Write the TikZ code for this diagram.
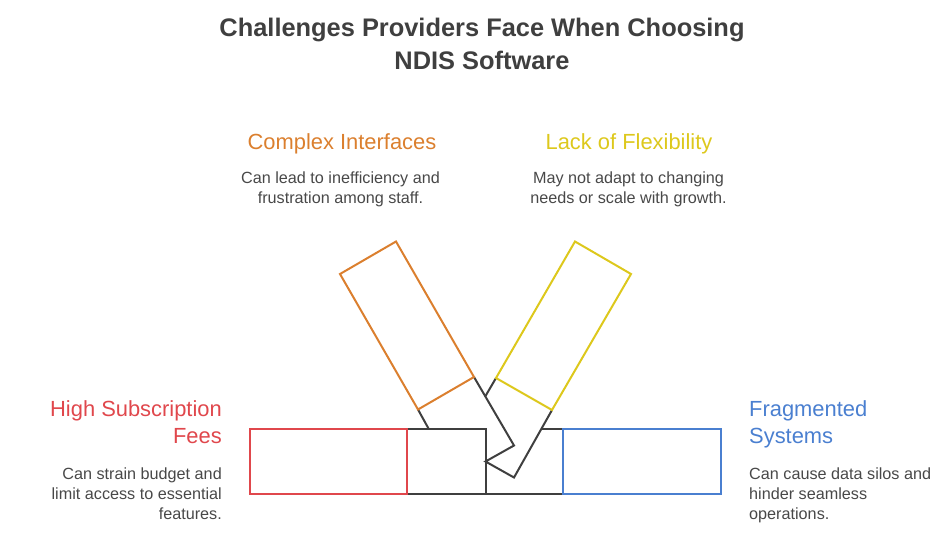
\documentclass[tikz,border=0pt]{standalone}
\usepackage{fontspec}
\setmainfont{Liberation Sans}
\definecolor{ink}{HTML}{3F3F3F}
\definecolor{cred}{HTML}{E0474C}
\definecolor{corange}{HTML}{DB7F2E}
\definecolor{cyellow}{HTML}{DDC81C}
\definecolor{cblue}{HTML}{4A7FD0}
\definecolor{body}{HTML}{484848}
\tikzset{
  x=1pt,y=-1pt,
  shapeline/.style={line width=2pt,line join=miter},
  titletext/.style={font=\fontsize{25.4}{33}\selectfont\bfseries,text=ink,align=center,inner sep=0pt},
  headtext/.style={font=\fontsize{21.9}{27}\selectfont,inner sep=0pt},
  bodytext/.style={font=\fontsize{16.2}{19.8}\selectfont,text=body,inner sep=0pt},
}
\begin{document}
\begin{tikzpicture}
\useasboundingbox (0,0) rectangle (936,554);
\node[titletext] (title) at (482,44) {Challenges Providers Face When Choosing\\NDIS Software};
\node[headtext,text=corange] (h1) at (342,143.5) {Complex Interfaces};
\node[bodytext,align=center] (b1) at (340.5,189) {Can lead to inefficiency and\\frustration among staff.};
\node[headtext,text=cyellow] (h2) at (629,143.5) {Lack of Flexibility};
\node[bodytext,align=center] (b2) at (628.5,189) {May not adapt to changing\\needs or scale with growth.};
\node[headtext,text=cred,align=right,anchor=north east] (h3) at (222,400.5) {High Subscription\\Fees};
\node[bodytext,align=right,anchor=north east] (b3) at (222,467.5) {Can strain budget and\\limit access to essential\\features.};
\node[headtext,text=cblue,align=left,anchor=north west] (h4) at (749,400.5) {Fragmented\\Systems};
\node[bodytext,align=left,anchor=north west] (b4) at (749,467.5) {Can cause data silos and\\hinder seamless\\operations.};
% dark structure
\draw[shapeline,ink] (407,428.5) -- (485.5,428.5) -- (485.5,494) -- (407,494);
\draw[shapeline,ink] (485.5,494) -- (563,494);
\draw[shapeline,ink] (542,428.5) -- (563,428.5);
\draw[shapeline,ink] (474,377) -- (514,445.5) -- (485.5,461.5) -- (514,477.5) -- (552,410);
\draw[shapeline,ink] (418,409.5) -- (428.5,428.5);
\draw[shapeline,ink] (496,378) -- (485.5,396);
% coloured boxes
\draw[shapeline,cred] (250,428.5) rectangle (407,494);
\draw[shapeline,cblue] (563,428.5) rectangle (720.5,494);
\draw[shapeline,corange] (396,241.5) -- (340,274) -- (418,409.5) -- (474,377) -- cycle;
\draw[shapeline,cyellow] (575,241.5) -- (631,274) -- (552,410) -- (496,378) -- cycle;
\end{tikzpicture}
\end{document}
